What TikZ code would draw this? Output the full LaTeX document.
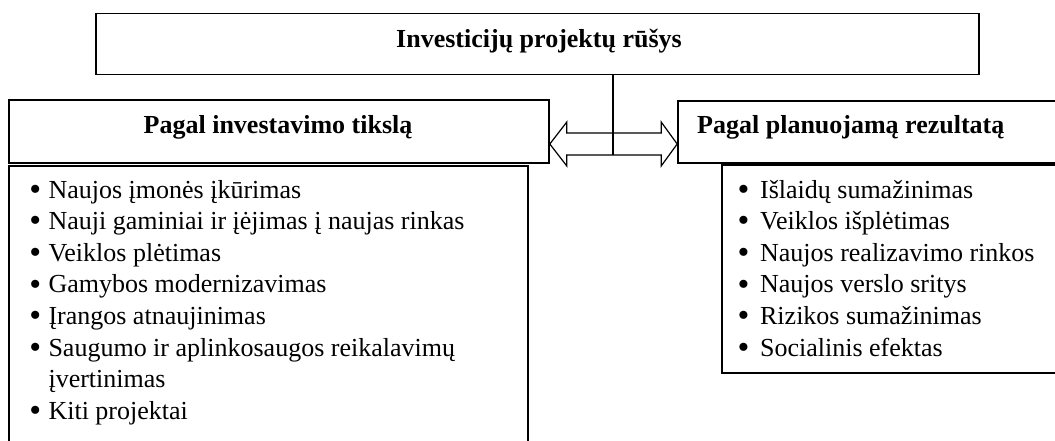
\documentclass[tikz,border=0pt]{standalone}
\usepackage{fontspec}
\setmainfont{Liberation Serif}
\usetikzlibrary{calc}
\newcommand\mybul{\raisebox{-0.085em}{\scalebox{1.3}{\textbullet}}}
\begin{document}
\begin{tikzpicture}[x=1pt,y=-1pt,
  box/.style={draw=black, line width=1.6pt, inner sep=0pt},
  conn/.style={draw=black, line width=1.2pt, line join=miter},
  ttl/.style={font=\fontsize{26}{30}\selectfont\bfseries, inner sep=0pt},
  lst/.style={font=\fontsize{26}{31.6}\selectfont, inner sep=0pt, anchor=base west}]
\clip (0,0) rectangle (1055,441);
\fill[white] (0,0) rectangle (1055,441);
% boxes
\node[box, minimum width=883pt, minimum height=61pt] (top) at (537.5,44) {};
\node[box, minimum width=540pt, minimum height=63pt] (left) at (279,131.5) {};
\node[box, minimum width=397pt, minimum height=62pt] (right) at (876.5,132) {};
\node[box, minimum width=519pt, minimum height=304pt] (llist) at (268.5,318) {};
\node[box, minimum width=353pt, minimum height=208pt] (rlist) at (898.5,269) {};
% titles
\node[ttl, anchor=base] (ttop) at (539,48) {Investicijų projektų rūšys};
\node[ttl, anchor=base] (tleft) at (278,134) {Pagal investavimo tikslą};
\node[ttl, anchor=base west] (tright) at (697,134) {Pagal planuojamą rezultatą};
% lists
\node[lst] (ltext) at (29.2,198) {\begin{tabular}[t]{@{}l@{\hspace{7.3pt}}l@{}}
\mybul & Naujos įmonės įkūrimas\\
\mybul & Nauji gaminiai ir įėjimas į naujas rinkas\\
\mybul & Veiklos plėtimas\\
\mybul & Gamybos modernizavimas\\
\mybul & Įrangos atnaujinimas\\
\mybul & Saugumo ir aplinkosaugos reikalavimų\\
 & įvertinimas\\
\mybul & Kiti projektai
\end{tabular}};
\node[lst] (rtext) at (737.5,198) {\begin{tabular}[t]{@{}l@{\hspace{10.6pt}}l@{}}
\mybul & Išlaidų sumažinimas\\
\mybul & Veiklos išplėtimas\\
\mybul & Naujos realizavimo rinkos\\
\mybul & Naujos verslo sritys\\
\mybul & Rizikos sumažinimas\\
\mybul & Socialinis efektas
\end{tabular}};
% double block arrow between the two middle boxes
\coordinate (aL) at (left.east |- 0,144);
\coordinate (aR) at (right.west |- 0,144);
\draw[conn] (aL) -- ($(aL)+(17,-22)$) -- ($(aL)+(17,-11)$) -- ($(aR)+(-16,-11)$)
  -- ($(aR)+(-16,-22)$) -- (aR) -- ($(aR)+(-16,22)$) -- ($(aR)+(-16,11)$)
  -- ($(aL)+(17,11)$) -- ($(aL)+(17,22)$) -- cycle;
% vertical connector from the top box
\coordinate (vb) at (613,155);
\draw[conn] (top.south -| vb) -- (vb);
\end{tikzpicture}
\end{document}
